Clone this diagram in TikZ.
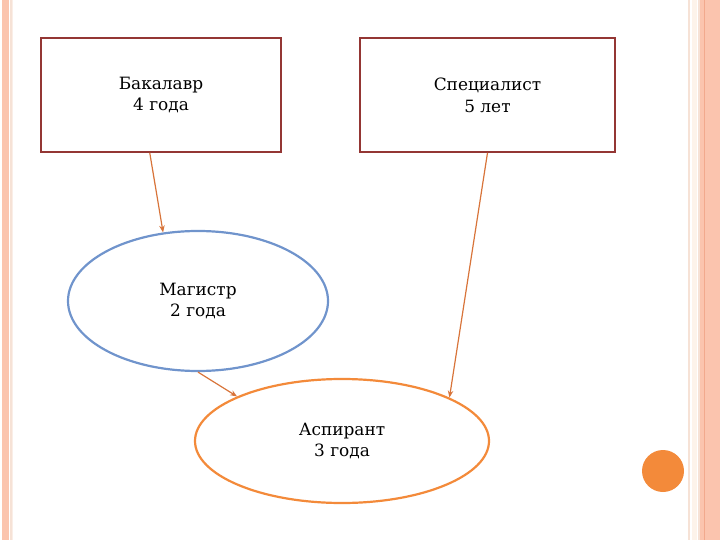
\documentclass[tikz,border=0pt]{standalone}
\usepackage{fontspec}
\setmainfont{DejaVu Serif}
\usetikzlibrary{shapes.geometric,arrows.meta,positioning}
\definecolor{stbord}{HTML}{943634}
\definecolor{stbleu}{HTML}{7094CC}
\definecolor{storange}{HTML}{F38A3A}
\definecolor{stfleche}{HTML}{D8743A}
\definecolor{stsaumon}{HTML}{FBC4AE}
\definecolor{stsaumonf}{HTML}{F2A98D}
\definecolor{stpale}{HTML}{F6E2D6}
\definecolor{stcreme}{HTML}{FDF3EA}

\begin{document}
\begin{tikzpicture}[x=1bp,y=-1bp,
  niveau/.style={rectangle,draw=stbord,line width=1.6bp,inner sep=0pt,
    minimum height=114bp,align=center,font=\fontsize{17}{22}\selectfont},
  etape/.style={ellipse,line width=2.2bp,inner sep=0pt,
    align=center,font=\fontsize{17}{22}\selectfont},
  fl/.style={-{Stealth[length=7bp,width=5.5bp]},stfleche,line width=1.2bp}]
  \useasboundingbox (0,0) rectangle (720,540);
  % bandes laterales
  \fill[stsaumon] (2,0) rectangle (9,540);
  \fill[stpale] (10,0) rectangle (11.5,540);
  \fill[stpale!60] (12,0) rectangle (13,540);
  \fill[stpale] (688,0) rectangle (690,540);
  \fill[stcreme] (692,0) rectangle (697,540);
  \fill[stpale] (698,0) rectangle (700,540);
  \fill[stsaumon] (700,0) rectangle (720,540);
  \fill[stsaumonf] (703.5,0) rectangle (705,540);
  \fill[storange] (663,471) circle (21);
  % niveaux
  \node[niveau,minimum width=240bp] (bak) at (161,95) {Бакалавр\\4 года};
  \node[niveau,minimum width=255bp] (spec) at (487.5,95) {Специалист\\5 лет};
  \node[etape,draw=stbleu,minimum width=260bp,minimum height=140bp] (mag) at (198,301) {Магистр\\2 года};
  \node[etape,draw=storange,minimum width=294bp,minimum height=124bp] (asp) at (342,441) {Аспирант\\3 года};
  % passages
  \draw[fl] (bak.259) -- (mag.117);
  \draw[fl] (spec.south) -- (asp.22);
  \draw[fl] (mag.south) -- (asp.157);
\end{tikzpicture}
\end{document}
